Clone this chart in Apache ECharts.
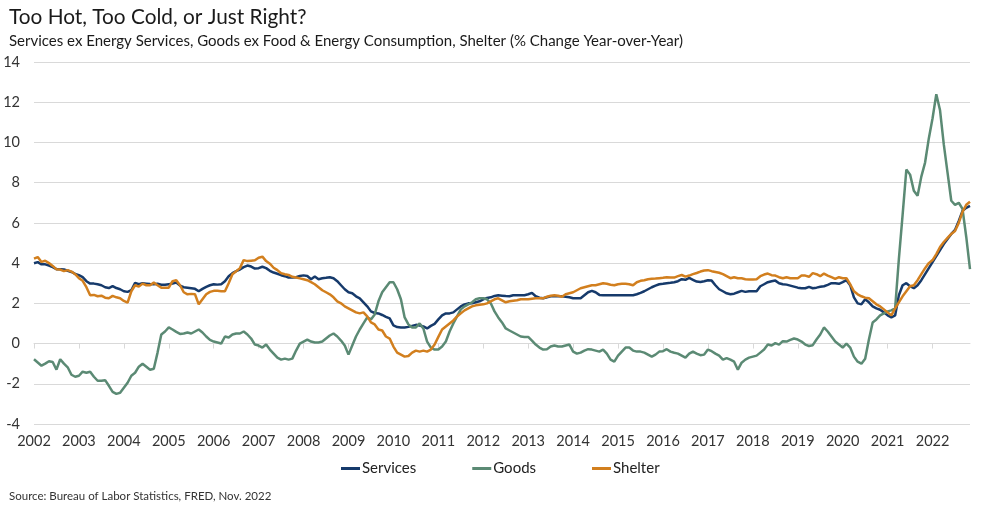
<!DOCTYPE html>
<html>
<head>
<meta charset="utf-8">
<script src="https://cdn.jsdelivr.net/npm/echarts@6/dist/echarts.min.js"></script>
<style>html,body{margin:0;padding:0;background:#fff}#c{width:982px;height:509px}</style>
</head>
<body>
<div id="c"></div>
<script>
var firstYear = 2002;
var lastYear = 2022;
var lastMonthCount = 11;
var titleText = 'Too Hot, Too Cold, or Just Right?';
var subtitleText = 'Services ex Energy Services, Goods ex Food & Energy Consumption, Shelter (% Change Year-over-Year)';
var sourceText = 'Source: Bureau of Labor Statistics, FRED, Nov. 2022';
var seriesNames = ['Services', 'Goods', 'Shelter'];
var yTicks = {min: -4, max: 14, step: 2};

var services = [
3.99,4.05,3.94,3.94,3.88,3.8,3.7,3.7,3.68,3.62,3.56,3.46,
3.4,3.3,3.1,2.98,2.98,2.95,2.9,2.8,2.76,2.86,2.76,2.7,
2.6,2.57,2.65,3.02,2.95,3.0,2.98,2.96,2.95,2.97,2.92,2.92,
2.95,2.98,3.03,2.88,2.8,2.78,2.75,2.72,2.6,2.72,2.82,2.9,
2.95,2.93,2.95,3.1,3.35,3.5,3.6,3.68,3.8,3.88,3.83,3.73,
3.75,3.82,3.75,3.62,3.53,3.47,3.4,3.35,3.28,3.28,3.3,3.36,
3.39,3.36,3.2,3.33,3.2,3.25,3.27,3.3,3.25,3.1,2.9,2.7,
2.55,2.5,2.35,2.25,2.05,1.85,1.6,1.52,1.5,1.42,1.33,1.25,
0.9,0.82,0.8,0.8,0.83,0.88,0.93,0.9,0.85,0.75,0.88,0.98,
1.2,1.4,1.5,1.5,1.55,1.7,1.85,1.95,2.0,2.0,2.05,2.1,
2.2,2.27,2.3,2.37,2.4,2.38,2.36,2.35,2.4,2.4,2.4,2.4,
2.45,2.52,2.35,2.28,2.25,2.3,2.35,2.35,2.35,2.35,2.33,2.3,
2.25,2.25,2.25,2.4,2.55,2.62,2.55,2.42,2.4,2.4,2.4,2.4,
2.4,2.4,2.4,2.4,2.4,2.45,2.52,2.6,2.7,2.8,2.88,2.95,
2.97,3.0,3.02,3.05,3.1,3.2,3.17,3.26,3.17,3.08,3.06,3.1,
3.15,3.13,2.9,2.7,2.6,2.5,2.45,2.48,2.55,2.62,2.57,2.6,
2.6,2.6,2.85,2.95,3.05,3.1,3.13,3.0,2.95,2.93,2.88,2.83,
2.78,2.75,2.75,2.82,2.75,2.78,2.82,2.85,2.92,3.0,3.0,2.97,
3.05,3.15,2.9,2.3,2.0,1.95,2.2,2.05,1.85,1.75,1.68,1.55,
1.4,1.3,1.4,2.4,2.9,3.0,2.85,2.75,2.9,3.15,3.45,3.75,
4.05,4.35,4.65,4.95,5.2,5.45,5.65,6.1,6.6,6.75,6.85
];

var goods = [
-0.78,-0.94,-1.1,-1.0,-0.88,-0.92,-1.3,-0.78,-1.0,-1.18,-1.55,-1.65,
-1.6,-1.4,-1.45,-1.4,-1.65,-1.85,-1.85,-1.82,-2.1,-2.4,-2.5,-2.45,
-2.2,-1.95,-1.6,-1.45,-1.15,-1.0,-1.15,-1.3,-1.25,-0.45,0.45,0.6,
0.8,0.7,0.58,0.48,0.5,0.55,0.5,0.6,0.7,0.55,0.35,0.18,
0.1,0.05,0.0,0.35,0.3,0.45,0.5,0.5,0.6,0.45,0.25,-0.05,
-0.1,-0.2,-0.05,-0.3,-0.5,-0.7,-0.8,-0.75,-0.8,-0.75,-0.35,0.0,
0.1,0.2,0.1,0.05,0.05,0.1,0.25,0.4,0.5,0.35,0.15,-0.1,
-0.55,-0.1,0.35,0.7,1.0,1.3,1.2,1.45,2.1,2.55,2.8,3.05,
3.05,2.7,2.2,1.3,0.95,0.8,0.8,1.0,0.75,0.1,-0.2,-0.3,
-0.3,-0.15,0.1,0.6,1.0,1.35,1.7,1.85,1.95,2.05,2.2,2.25,
2.25,2.2,2.0,1.6,1.3,1.05,0.75,0.65,0.55,0.45,0.35,0.33,
0.33,0.15,-0.05,-0.2,-0.3,-0.28,-0.15,-0.1,-0.15,-0.15,-0.1,-0.05,
-0.4,-0.5,-0.45,-0.35,-0.28,-0.3,-0.35,-0.4,-0.3,-0.5,-0.8,-0.9,
-0.6,-0.4,-0.2,-0.2,-0.35,-0.4,-0.4,-0.45,-0.55,-0.65,-0.55,-0.4,
-0.38,-0.28,-0.4,-0.46,-0.5,-0.6,-0.7,-0.5,-0.4,-0.5,-0.58,-0.55,
-0.3,-0.38,-0.5,-0.6,-0.8,-0.72,-0.8,-0.9,-1.3,-0.95,-0.8,-0.7,
-0.65,-0.6,-0.45,-0.3,-0.05,-0.1,0.02,-0.05,0.12,0.1,0.18,0.25,
0.2,0.1,-0.05,-0.12,-0.08,0.2,0.45,0.8,0.6,0.35,0.1,-0.05,
-0.2,0.0,-0.2,-0.65,-0.9,-1.0,-0.75,0.2,1.05,1.2,1.4,1.5,
1.6,1.65,1.75,4.2,6.4,8.65,8.4,7.6,7.35,8.3,9.0,10.2,
11.2,12.4,11.6,9.9,8.5,7.1,6.9,7.0,6.7,5.3,3.7
];

var shelter = [
4.22,4.3,4.06,4.12,4.0,3.86,3.69,3.68,3.6,3.65,3.58,3.45,
3.25,3.12,2.8,2.4,2.42,2.35,2.38,2.28,2.25,2.37,2.3,2.25,
2.12,2.04,2.6,2.9,2.83,2.98,2.9,2.9,3.03,2.9,2.78,2.78,
2.78,3.1,3.15,2.9,2.55,2.45,2.47,2.45,1.95,2.2,2.45,2.57,
2.62,2.62,2.6,2.6,3.0,3.45,3.6,3.75,4.15,4.1,4.12,4.14,
4.27,4.32,4.1,3.97,3.77,3.65,3.5,3.45,3.41,3.32,3.28,3.24,
3.2,3.15,3.05,2.95,2.8,2.65,2.55,2.45,2.3,2.1,2.0,1.85,
1.75,1.65,1.55,1.5,1.55,1.35,1.05,0.95,0.7,0.65,0.35,0.25,
-0.15,-0.45,-0.55,-0.65,-0.62,-0.45,-0.35,-0.4,-0.35,-0.4,-0.3,-0.05,
0.33,0.7,0.85,1.0,1.15,1.35,1.5,1.65,1.75,1.85,1.9,1.93,
1.95,2.0,2.1,2.2,2.25,2.15,2.05,2.1,2.13,2.15,2.2,2.2,
2.2,2.23,2.25,2.25,2.25,2.33,2.38,2.4,2.38,2.33,2.45,2.5,
2.55,2.65,2.75,2.8,2.85,2.9,2.9,2.95,3.0,2.97,2.92,2.9,
2.95,2.97,2.97,2.95,2.9,3.05,3.12,3.15,3.2,3.22,3.23,3.25,
3.27,3.3,3.28,3.28,3.35,3.41,3.33,3.38,3.45,3.51,3.58,3.63,
3.65,3.6,3.56,3.52,3.45,3.35,3.25,3.3,3.25,3.25,3.2,3.18,
3.18,3.2,3.35,3.43,3.48,3.4,3.38,3.3,3.25,3.3,3.25,3.25,
3.25,3.38,3.38,3.32,3.5,3.45,3.35,3.48,3.38,3.3,3.22,3.3,
3.25,3.25,2.95,2.6,2.45,2.35,2.28,2.25,2.1,1.95,1.85,1.7,
1.55,1.4,1.75,2.05,2.35,2.6,2.85,2.9,3.15,3.45,3.75,4.0,
4.15,4.45,4.8,5.05,5.25,5.45,5.6,6.0,6.55,6.9,7.05
];

var months = [];
for (var y = firstYear; y <= lastYear; y++) {
  var n = (y === lastYear) ? lastMonthCount : 12;
  for (var m = 1; m <= n; m++) months.push(y + '-' + (m < 10 ? '0' + m : m));
}
function isJan(idx, val) { return String(val).slice(5) === '01'; }

var colors = ['#163a6b', '#5b8a74', '#d27f1e'];
var FONT = 'Lato';
var chart = echarts.init(document.getElementById('c'), null, {renderer: 'canvas'});
chart.setOption({
  animation: false,
  color: colors,
  textStyle: {fontFamily: FONT},
  title: [
    {text: titleText, left: 4, top: 2, textStyle: {fontFamily: FONT, fontSize: 20.8, fontWeight: 'normal', color: '#1a1a1a'}},
    {text: subtitleText, left: 4, top: 29, textStyle: {fontFamily: FONT, fontSize: 15, fontWeight: 'normal', color: '#1a1a1a'}},
    {text: sourceText, left: 4, top: 485, textStyle: {fontFamily: FONT, fontSize: 11.5, fontWeight: 'normal', color: '#333'}}
  ],
  legend: {
    left: 336, top: 456, itemWidth: 19, itemHeight: 3, itemGap: 56, icon: 'rect',
    textStyle: {fontFamily: FONT, fontSize: 15, color: '#222', padding: [0, 0, 0, -3]},
    data: seriesNames
  },
  grid: {left: 34, right: 12, top: 62, bottom: 85},
  xAxis: [
    {type: 'category', data: months, boundaryGap: false,
     axisLine: {show: false, onZero: false}, axisTick: {show: false},
     axisLabel: {interval: isJan, formatter: function (v) { return v.slice(0, 4); }, fontFamily: FONT, fontSize: 14.5, color: '#333', margin: 10},
     splitLine: {show: false}},
    {type: 'category', data: months, boundaryGap: false, position: 'bottom',
     axisLine: {show: true, onZero: true, lineStyle: {color: '#d9d9d9', width: 1}},
     axisTick: {show: true, interval: isJan, length: 5, lineStyle: {color: '#d9d9d9', width: 1}},
     axisLabel: {show: false}, splitLine: {show: false}}
  ],
  yAxis: {
    type: 'value', min: yTicks.min, max: yTicks.max, interval: yTicks.step,
    axisLine: {show: false}, axisTick: {show: false},
    axisLabel: {fontFamily: FONT, fontSize: 14.5, color: '#333', margin: 14},
    splitLine: {lineStyle: {color: '#d9d9d9', width: 1}}
  },
  series: [
    {name: seriesNames[0], type: 'line', data: services, showSymbol: false, symbol: 'none', lineStyle: {width: 2.5, color: colors[0]}},
    {name: seriesNames[1], type: 'line', data: goods, showSymbol: false, symbol: 'none', lineStyle: {width: 2.5, color: colors[1]}},
    {name: seriesNames[2], type: 'line', data: shelter, showSymbol: false, symbol: 'none', lineStyle: {width: 2.5, color: colors[2]}}
  ]
});
</script>
</body>
</html>
